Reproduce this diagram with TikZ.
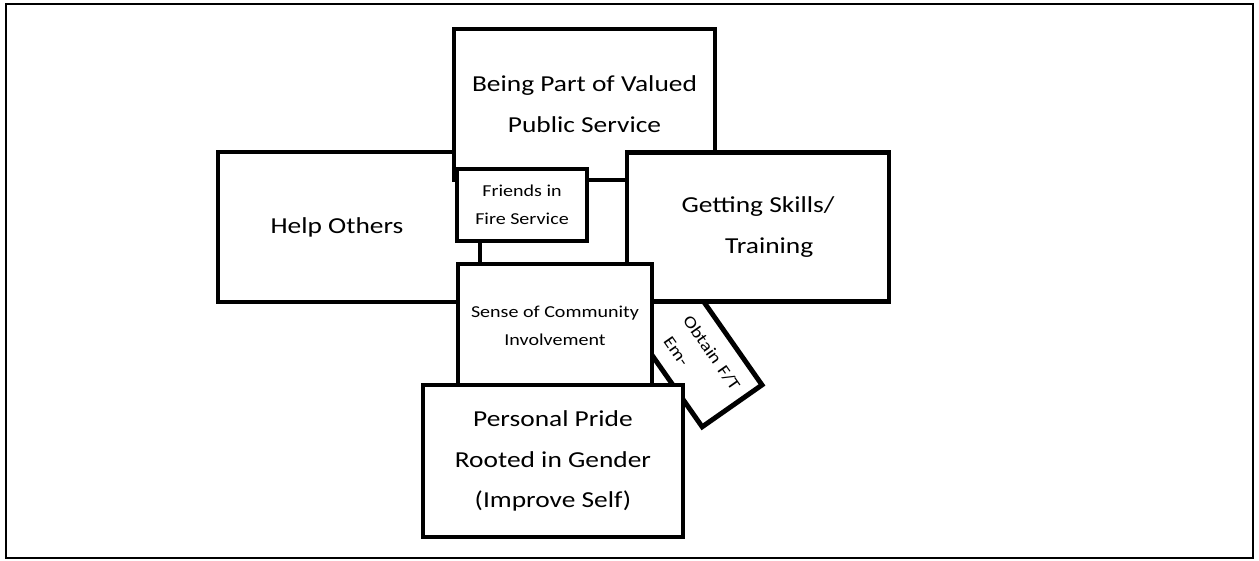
\documentclass[tikz,border=0pt]{standalone}
\usepackage{fontspec}
\setmainfont{Carlito}[FakeStretch=1.2]
\usetikzlibrary{positioning, backgrounds}
\tikzstyle{bigbox} = [rectangle, draw=black, line width=2.8pt, fill=white, outer sep=0pt, minimum width=5.24cm, minimum height=3cm, align=center, font=\fontsize{13}{23.2}\selectfont]
\tikzstyle{smallbox} = [rectangle, draw=black, line width=2.8pt, fill=white, outer sep=0pt, align=center, font=\fontsize{9.5}{15.9}\selectfont]
\tikzstyle{tiltbox} = [smallbox, rotate=-55, minimum width=2.9cm, minimum height=1.46cm, text width=2.6cm, align=left]
\tikzstyle{frame} = [draw=black, line width=1.4pt]

\begin{document}
\begin{tikzpicture}
\useasboundingbox (-6.98,-6.66) rectangle (18.2,4.54);
\draw [frame] (-6.86,4.46) rectangle (18.08,-6.62);

\node (help) [bigbox] {Help Others\hspace*{0.48cm}};
\node (public) [bigbox, minimum width=5.22cm, minimum height=3.02cm, above right=-0.56cm and -0.52cm of help.north east] {Being Part of Valued\\Public Service};
\node (skills) [bigbox, minimum height=2.98cm, right=2.94cm of help] {Getting Skills/\\\hspace*{0.45cm}Training};
\node (friends) [smallbox, minimum width=2.6cm, minimum height=1.44cm, below right=-0.22cm and 0.06cm of public.south west] {Friends in\\Fire Service};
\node (sense) [smallbox, minimum width=3.88cm, minimum height=2.46cm, below right=0.46cm and 0.02cm of friends.south west] {Sense of Community\\Involvement};
\node (pride) [bigbox, minimum width=5.2cm, minimum height=3.04cm, below=-0.04cm of sense, xshift=-0.04cm] {Personal Pride\\Rooted in Gender\\(Improve Self)};

\begin{scope}[on background layer]
\node (obtain) [xshift=0.77cm, yshift=-0.42cm, tiltbox] at (sense.east) {\hspace*{0.78cm}Obtain F/T\\\hspace*{0.9cm}Em-};
\end{scope}
\end{tikzpicture}
\end{document}
